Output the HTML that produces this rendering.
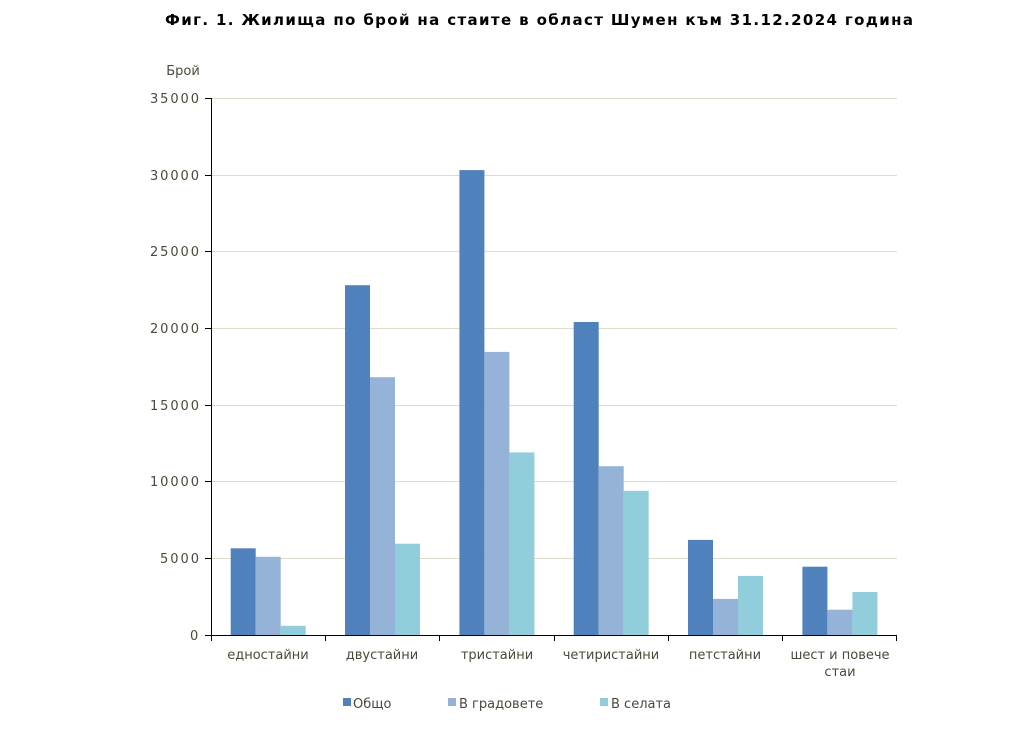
<!DOCTYPE html>
<html><head><meta charset="utf-8"><style>body{margin:0;background:#fff}svg{display:block}</style></head>
<body>
<svg width="1031" height="729" xmlns="http://www.w3.org/2000/svg" font-family="'DejaVu Sans','Liberation Sans',sans-serif">
<text x="165" y="25" textLength="748" lengthAdjust="spacing" font-size="15" font-weight="bold" fill="#000">Фиг. 1. Жилища по брой на стаите в област Шумен към 31.12.2024 година</text>
<text x="183" y="75" text-anchor="middle" font-size="13" fill="#4a4a3a">Брой</text>
<g stroke="#e0dcc8" stroke-width="1">
<line x1="211" x2="897" y1="98.5" y2="98.5"/><line x1="211" x2="897" y1="175.5" y2="175.5"/>
<line x1="211" x2="897" y1="251.5" y2="251.5"/><line x1="211" x2="897" y1="328.5" y2="328.5"/>
<line x1="211" x2="897" y1="405.5" y2="405.5"/><line x1="211" x2="897" y1="481.5" y2="481.5"/>
<line x1="211" x2="897" y1="558.5" y2="558.5"/>
</g>
<g font-size="13" fill="#4a4a3a">
<text x="150" y="103" textLength="49">35000</text><text x="150" y="180" textLength="49">30000</text><text x="150" y="256" textLength="49">25000</text>
<text x="150" y="333" textLength="49">20000</text><text x="150" y="410" textLength="49">15000</text><text x="150" y="486" textLength="49">10000</text>
<text x="160" y="563" textLength="39">5000</text><text x="190" y="640">0</text>
</g>
<g fill="#4F81BD">
<rect x="230.7" y="548.3" width="25" height="86.7"/><rect x="345" y="285.2" width="25" height="349.8"/>
<rect x="459.4" y="170.1" width="25" height="464.9"/><rect x="573.7" y="322" width="25" height="313"/>
<rect x="688" y="539.9" width="25" height="95.1"/><rect x="802.4" y="566.7" width="25" height="68.3"/>
</g>
<g fill="#95B3D7">
<rect x="255.7" y="556.8" width="25" height="78.2"/><rect x="370" y="377.2" width="25" height="257.8"/>
<rect x="484.4" y="351.9" width="25" height="283.1"/><rect x="598.7" y="466.2" width="25" height="168.8"/>
<rect x="713" y="598.9" width="25" height="36.1"/><rect x="827.4" y="609.7" width="25" height="25.3"/>
</g>
<g fill="#92CDDC">
<rect x="280.7" y="625.8" width="25" height="9.2"/><rect x="395" y="543.7" width="25" height="91.3"/>
<rect x="509.4" y="452.4" width="25" height="182.6"/><rect x="623.7" y="490.8" width="25" height="144.2"/>
<rect x="738" y="575.9" width="25" height="59.1"/><rect x="852.4" y="592" width="25" height="43"/>
</g>
<g stroke="#000" stroke-width="1">
<line x1="211.5" x2="211.5" y1="98" y2="635"/>
<line x1="205" x2="211" y1="98.5" y2="98.5"/><line x1="205" x2="211" y1="175.5" y2="175.5"/>
<line x1="205" x2="211" y1="251.5" y2="251.5"/><line x1="205" x2="211" y1="328.5" y2="328.5"/>
<line x1="205" x2="211" y1="405.5" y2="405.5"/><line x1="205" x2="211" y1="481.5" y2="481.5"/>
<line x1="205" x2="211" y1="558.5" y2="558.5"/>
<line x1="205" x2="897" y1="635.5" y2="635.5"/>
<line x1="211.5" x2="211.5" y1="635" y2="641"/><line x1="325.5" x2="325.5" y1="635" y2="641"/>
<line x1="439.5" x2="439.5" y1="635" y2="641"/><line x1="554.5" x2="554.5" y1="635" y2="641"/>
<line x1="668.5" x2="668.5" y1="635" y2="641"/><line x1="782.5" x2="782.5" y1="635" y2="641"/>
<line x1="896.5" x2="896.5" y1="635" y2="641"/>
</g>
<g font-size="13" fill="#4a4a3a" text-anchor="middle">
<text x="268" y="659">едностайни</text><text x="382" y="659">двустайни</text>
<text x="497" y="659">тристайни</text><text x="611" y="659">четиристайни</text>
<text x="725" y="659">петстайни</text><text x="840" y="659">шест и повече</text>
<text x="840" y="676">стаи</text>
</g>
<g font-size="13" fill="#4a4a3a">
<rect x="343" y="698" width="8" height="8" fill="#4F81BD"/><text x="353" y="708">Общо</text>
<rect x="448" y="698" width="8" height="8" fill="#95B3D7"/><text x="459" y="708">В градовете</text>
<rect x="600" y="698" width="8" height="8" fill="#92CDDC"/><text x="611" y="708">В селата</text>
</g>
</svg>
</body></html>
